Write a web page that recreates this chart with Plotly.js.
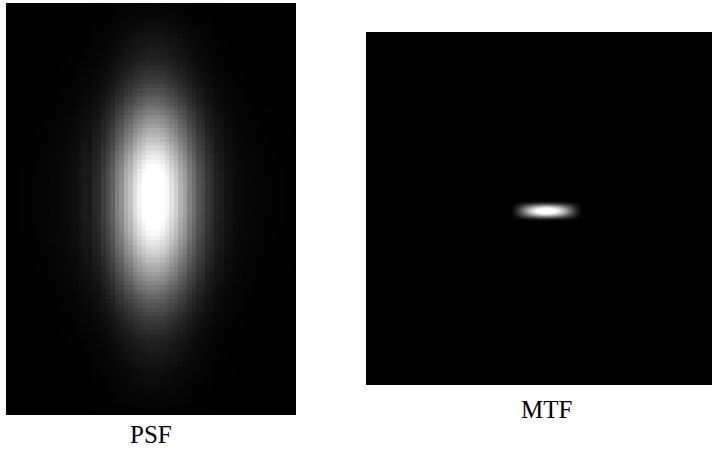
<!DOCTYPE html>
<html>
<head>
<meta charset="utf-8">
<script src="https://cdn.plot.ly/plotly-3.0.1.min.js"></script>
<style>html,body{margin:0;padding:0;background:#fff;}#chart{width:712px;height:450px;}</style>
</head>
<body>
<div id="chart"></div>
<script>
// PSF: intensity profile across columns (left to right) and down rows (top to bottom)
const psfColProfile = [
  0.008,0.008,0.009,0.010,0.011,0.012,0.013,0.015,0.017,0.020,
  0.024,0.028,0.034,0.040,0.050,0.055,
  0.080,0.100,0.095,0.140,0.160,0.220,
  0.280,0.350,0.460,0.520,0.640,0.700,
  0.800,0.880,0.940,0.990,
  1.000,0.990,0.960,0.900,
  0.820,0.750,0.650,0.580,
  0.470,0.400,0.310,0.270,0.200,0.170,
  0.120,0.100,0.070,0.060,0.045,0.035,
  0.028,0.024,0.020,0.017,0.015,0.013,0.012,0.011,0.010,0.009,0.009,0.008
];
const psfRowProfile = [
  0.015,0.020,0.025,0.030,0.040,
  0.050,0.060,0.070,0.080,0.090,0.100,0.110,0.120,
  0.140,0.160,0.180,0.200,0.220,0.250,0.280,
  0.310,0.350,0.380,0.420,0.460,0.500,0.540,
  0.580,0.620,0.660,0.700,0.740,0.780,0.820,
  0.860,0.890,0.920,0.950,0.970,0.980,
  0.990,1.000,1.000,1.000,1.000,1.000,0.990,
  0.980,0.960,0.940,0.920,0.900,0.870,0.840,
  0.800,0.770,0.730,0.690,0.650,0.610,
  0.570,0.530,0.490,0.450,0.410,0.370,0.340,
  0.310,0.280,0.250,0.220,0.200,0.180,
  0.160,0.140,0.120,0.110,0.100,0.090,0.080,
  0.070,0.060,0.050,0.045,0.040,0.035,
  0.030,0.025,0.020,0.018,0.015,0.012
];

// MTF: frequency coordinates and profiles of the central lobe
const mtfFx = [144,146,148,150,152,154,156,158,160,162,164,166,168,170,172,174,176,178,180,
               182,184,186,188,190,192,194,196,198,200,202,204,206,208,210,212,214,216];
const mtfColProfile = [0,0.03,0.08,0.14,0.20,0.28,0.36,0.44,0.52,0.60,0.67,0.74,0.80,0.85,0.90,0.94,0.97,0.99,1.00,
                       0.99,0.97,0.94,0.90,0.85,0.80,0.74,0.67,0.60,0.52,0.44,0.36,0.28,0.20,0.14,0.08,0.03,0];
const mtfFy = [167,168,169,170,171,172,173,174,175,176,177,178,179,180,181,182,183,184,185,186,187,188,189];
const mtfRowProfile = [0,0.02,0.06,0.14,0.26,0.40,0.55,0.69,0.81,0.91,0.97,1.00,0.97,0.91,0.81,0.69,0.55,0.40,0.26,0.14,0.06,0.02,0];

const labels = ['PSF', 'MTF'];

const psfZ = psfRowProfile.map(r => psfColProfile.map(c => r * c));
const mtfZ = mtfRowProfile.map(r => mtfColProfile.map(c => r * c));

const grey = [[0,'rgb(0,0,0)'],[1,'rgb(255,255,255)']];

const traces = [
  {type:'heatmap', z: psfZ, colorscale: grey, zmin:0, zmax:0.92, showscale:false,
   xaxis:'x', yaxis:'y', hoverinfo:'skip'},
  {type:'heatmap', x: mtfFx, y: mtfFy, z: mtfZ, colorscale: grey, zmin:0, zmax:0.85,
   showscale:false, zsmooth:'best', xaxis:'x2', yaxis:'y2', hoverinfo:'skip'}
];

const W = 712, H = 450;
const hidden = {showgrid:false, zeroline:false, showticklabels:false, ticks:'', showline:false, fixedrange:true};

const layout = {
  width: W, height: H,
  margin: {l:0, r:0, t:0, b:0},
  paper_bgcolor: '#ffffff',
  plot_bgcolor: '#000000',
  showlegend: false,
  xaxis: Object.assign({}, hidden, {domain:[6/W, 296/W], range:[-0.5, psfColProfile.length-0.5]}),
  yaxis: Object.assign({}, hidden, {domain:[1-415/H, 1-3/H], range:[psfRowProfile.length-0.5, -0.5]}),
  xaxis2: Object.assign({}, hidden, {domain:[366/W, 1], range:[0, 346], anchor:'y2'}),
  yaxis2: Object.assign({}, hidden, {domain:[1-385/H, 1-32/H], range:[353, 0], anchor:'x2'}),
  annotations: [
    {text: labels[0], xref:'paper', yref:'paper', x:151/W, y:1-434/H, xanchor:'center', yanchor:'middle',
     showarrow:false, font:{family:'Liberation Serif, Times New Roman, serif', size:25, color:'#000'}},
    {text: labels[1], xref:'paper', yref:'paper', x:546/W, y:1-409/H, xanchor:'center', yanchor:'middle',
     showarrow:false, font:{family:'Liberation Serif, Times New Roman, serif', size:25, color:'#000'}}
  ]
};

Plotly.newPlot('chart', traces, layout, {displayModeBar:false, staticPlot:true});
</script>
</body>
</html>
